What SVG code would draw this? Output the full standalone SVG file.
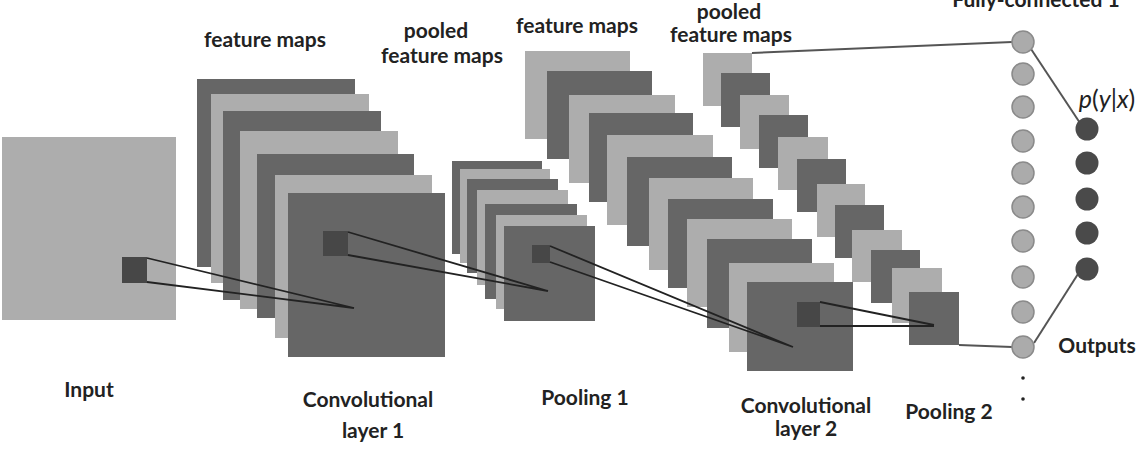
<svg xmlns="http://www.w3.org/2000/svg" width="1146" height="462" viewBox="0 0 1146 462">
<style>
.d{fill:#666666}
.l{fill:#adadad}
.k{fill:#474747}
.t{font-family:Lato,"Liberation Sans",sans-serif;font-weight:bold;font-size:21px;fill:#222;text-anchor:middle}
.c{stroke:#222;stroke-width:1.8;fill:none}
.w{stroke:#555;stroke-width:2;fill:none}
.fc{fill:#ababab;stroke:#8a8a8a;stroke-width:1.5}
.o{fill:#4a4a4a}
</style>
<rect width="1146" height="462" fill="#fff"/>
<g id="input">
<rect class="l" x="2" y="137" width="174" height="183"/>
<rect class="k" x="122" y="257" width="25" height="26"/>
<text class="t" x="89" y="397">Input</text>
</g>
<g id="conv1">
<rect class="d" x="197" y="79" width="158" height="188"/>
<rect class="l" x="211" y="94" width="158" height="189"/>
<rect class="d" x="223" y="111" width="158" height="189"/>
<rect class="l" x="240" y="131" width="158" height="178"/>
<rect class="d" x="257" y="154" width="157" height="164"/>
<rect class="l" x="275" y="175" width="157" height="163"/>
<rect class="d" x="288" y="193" width="157" height="164"/>
<rect class="k" x="323" y="231" width="25" height="25"/>
<text class="t" x="265" y="47">feature maps</text>
<text class="t" x="368" y="407">Convolutional</text>
<text class="t" x="373" y="438">layer 1</text>
</g>
<g id="pool1">
<rect class="d" x="452" y="161" width="90" height="93"/>
<rect class="l" x="460" y="169" width="90" height="94"/>
<rect class="d" x="467" y="179" width="91" height="94"/>
<rect class="l" x="477" y="190" width="91" height="95"/>
<rect class="d" x="485" y="204" width="92" height="95"/>
<rect class="l" x="496" y="215" width="91" height="94"/>
<rect class="d" x="504" y="226" width="91" height="95"/>
<rect class="k" x="532" y="245" width="18" height="18"/>
<text class="t" x="436" y="38">pooled</text>
<text class="t" x="442" y="63">feature maps</text>
<text class="t" x="585" y="405">Pooling 1</text>
</g>
<g id="conv2">
<rect class="l" x="525" y="51" width="105" height="88"/>
<rect class="d" x="547" y="71" width="105" height="88"/>
<rect class="l" x="569" y="95" width="106" height="88"/>
<rect class="d" x="589" y="113" width="104" height="89"/>
<rect class="l" x="607" y="135" width="106" height="90"/>
<rect class="d" x="627" y="157" width="105" height="89"/>
<rect class="l" x="649" y="178" width="104" height="92"/>
<rect class="d" x="668" y="199" width="105" height="89"/>
<rect class="l" x="687" y="219" width="105" height="88"/>
<rect class="d" x="707" y="239" width="105" height="89"/>
<rect class="l" x="729" y="263" width="105" height="89"/>
<rect class="d" x="747" y="282" width="106" height="89"/>
<rect class="k" x="797" y="302" width="23" height="25"/>
<text class="t" x="577" y="33">feature maps</text>
<text class="t" x="806" y="413">Convolutional</text>
<text class="t" x="806" y="436">layer 2</text>
</g>
<g id="pool2">
<rect class="l" x="703" y="53" width="49" height="53"/>
<rect class="d" x="721" y="73" width="49" height="54"/>
<rect class="l" x="740" y="95" width="49" height="54"/>
<rect class="d" x="759" y="115" width="49" height="53"/>
<rect class="l" x="778" y="137" width="50" height="53"/>
<rect class="d" x="797" y="159" width="49" height="53"/>
<rect class="l" x="817" y="184" width="48" height="53"/>
<rect class="d" x="835" y="205" width="49" height="53"/>
<rect class="l" x="852" y="230" width="50" height="52"/>
<rect class="d" x="871" y="250" width="49" height="53"/>
<rect class="l" x="892" y="268" width="50" height="55"/>
<rect class="d" x="909" y="292" width="50" height="53"/>
<text class="t" x="729" y="19">pooled</text>
<text class="t" x="731" y="42">feature maps</text>
<text class="t" x="949" y="419">Pooling 2</text>
</g>
<g id="connectors">
<path class="c" d="M147 258 L354 308 M147 282 L354 308"/>
<path class="c" d="M348 232 L548 291 M348 255 L548 291"/>
<path class="c" d="M550 246 L793 347 M550 262 L793 347"/>
<path class="c" d="M820 302 L934 325 M820 326 L934 326"/>
<path class="w" d="M752 53 L1012 42"/>
<path class="w" d="M1031 49 L1080 123"/>
<path class="w" d="M959 345 L1012 347"/>
<path class="w" d="M1034 343 L1078 274"/>
</g>
<g id="fc1">
<circle class="fc" cx="1023" cy="42" r="11"/>
<circle class="fc" cx="1023" cy="74" r="11"/>
<circle class="fc" cx="1023" cy="107" r="11"/>
<circle class="fc" cx="1023" cy="141" r="11"/>
<circle class="fc" cx="1023" cy="173" r="11"/>
<circle class="fc" cx="1023" cy="207" r="11"/>
<circle class="fc" cx="1023" cy="241" r="11"/>
<circle class="fc" cx="1023" cy="277" r="11"/>
<circle class="fc" cx="1023" cy="312" r="11"/>
<circle class="fc" cx="1023" cy="347" r="11"/>
<circle cx="1023" cy="378" r="1.8" fill="#222"/>
<circle cx="1023" cy="399" r="1.8" fill="#222"/>
<text class="t" x="1036" y="7">Fully-connected 1</text>
</g>
<g id="outputs">
<circle class="o" cx="1087" cy="129" r="11.5"/>
<circle class="o" cx="1087" cy="163" r="11.5"/>
<circle class="o" cx="1087" cy="199" r="11.5"/>
<circle class="o" cx="1087" cy="233" r="11.5"/>
<circle class="o" cx="1087" cy="269" r="11.5"/>
<text class="t" x="1107" y="108" style="font-weight:normal;font-size:25px"><tspan font-style="italic">p</tspan>(<tspan font-style="italic">y</tspan>|<tspan font-style="italic">x</tspan>)</text>
<text class="t" x="1097" y="353">Outputs</text>
</g>
</svg>
